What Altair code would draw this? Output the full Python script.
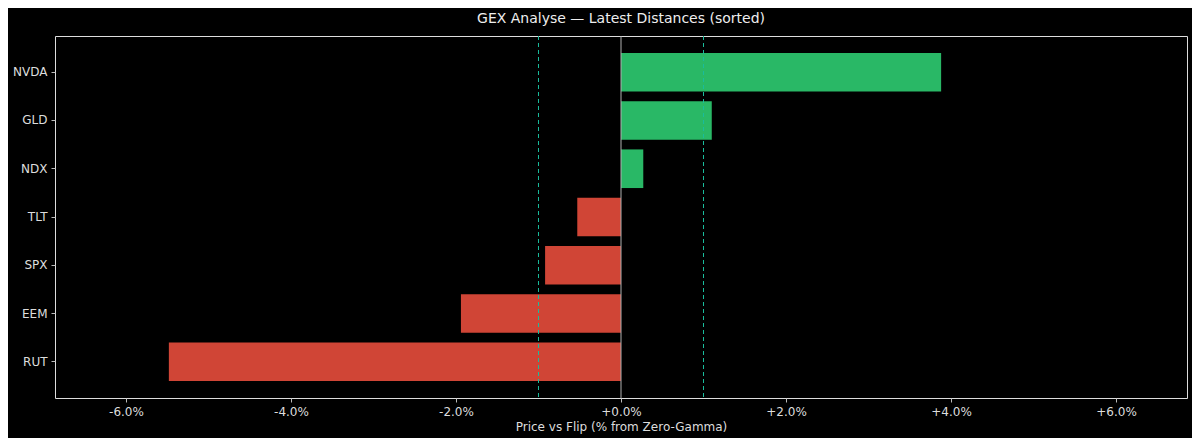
import altair as alt
import pandas as pd

# latest distance of price vs zero-gamma flip, in percent
tickers = ["NVDA", "GLD", "NDX", "TLT", "SPX", "EEM", "RUT"]
distances = [3.88, 1.10, 0.27, -0.53, -0.92, -1.94, -5.48]
band_lines = [-1.0, 1.0]
x_ticks = [-6, -4, -2, 0, 2, 4, 6]

df = pd.DataFrame({"ticker": tickers, "dist": distances})
df_band = pd.DataFrame({"x": band_lines})
df_zero = pd.DataFrame({"x": [0.0]})

x_scale = alt.Scale(domain=[-6.86, 6.86], nice=False, zero=False)

bars = alt.Chart(df).mark_bar(opacity=0.9).encode(
    y=alt.Y("ticker:N", sort=tickers,
            scale=alt.Scale(paddingInner=0.2, paddingOuter=0.35),
            axis=alt.Axis(title=None, labelColor="#dddddd", labelFontSize=12,
                          tickColor="#bbbbbb", tickSize=4, labelPadding=4,
                          domain=False, ticks=True)),
    x=alt.X("dist:Q", scale=x_scale,
            axis=alt.Axis(title="Price vs Flip (% from Zero-Gamma)", values=x_ticks,
                          labelExpr="(datum.value >= 0 ? '+' : '-') + format(abs(datum.value), '.1f') + '%'",
                          labelColor="#dddddd", labelFontSize=12, titleColor="#dddddd",
                          titleFontSize=12, titleFontWeight="normal", titlePadding=4,
                          tickColor="#bbbbbb", tickSize=4, labelPadding=4,
                          domain=False, grid=False)),
    x2=alt.datum(0),
    color=alt.condition(alt.datum.dist > 0, alt.value("#2ecc71"), alt.value("#e74c3c")),
)

zero = alt.Chart(df_zero).mark_rule(color="#b0b0b0", strokeWidth=1).encode(
    x=alt.X("x:Q", scale=x_scale)
)

bands = alt.Chart(df_band).mark_rule(color="#1abc9c", strokeWidth=1, strokeDash=[4, 3]).encode(
    x=alt.X("x:Q", scale=x_scale)
)

chart = alt.layer(bars, zero, bands).properties(
    width=1132,
    height=362,
    background="#000000",
    padding={"left": 47, "top": 28, "right": 5, "bottom": 40},
    autosize=alt.AutoSizeParams(type="none"),
    title=alt.TitleParams("GEX Analyse \u2014 Latest Distances (sorted)", color="#eeeeee",
                          fontSize=14, fontWeight="normal", font="DejaVu Sans", offset=10),
).configure_view(
    stroke="#4a4a4a", strokeWidth=1.5
).configure(
    font="DejaVu Sans"
)

chart.save("out.html", embed_options={"renderer": "svg", "actions": False})
